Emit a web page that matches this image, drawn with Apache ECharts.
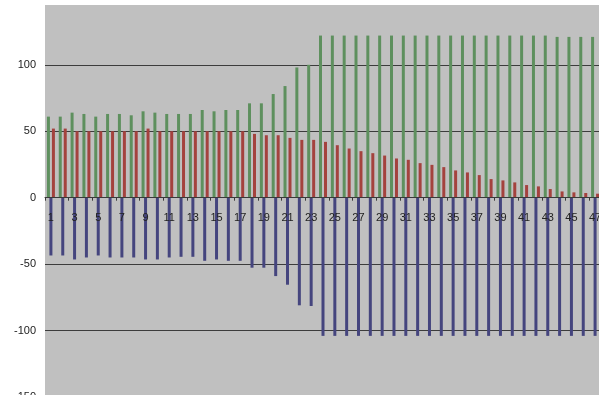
<!DOCTYPE html>
<html>
<head>
<meta charset="utf-8">
<script src="https://cdn.jsdelivr.net/npm/echarts@6/dist/echarts.min.js"></script>
<style>
html,body{margin:0;padding:0;background:#fff;}
#c{width:599px;height:395px;}
</style>
</head>
<body>
<div id="c"></div>
<script>
var categories = ['1','2','3','4','5','6','7','8','9','10','11','12','13','14','15','16','17','18','19','20','21','22','23','24','25','26','27','28','29','30','31','32','33','34','35','36','37','38','39','40','41','42','43','44','45','46','47'];
var greenValues = [61,61,64,63,61,63,63,62,65,64,63,63,63,66,65,66,66,71,71,78,84,98,100,122,122,122,122,122,122,122,122,122,122,122,122,122,122,122,122,122,122,122,122,121,121,121,121];
var blueValues = [-43.5,-43.5,-46.5,-45,-43.5,-45,-45,-45,-46.5,-46.5,-45,-44.5,-44.5,-47.5,-46.5,-47.5,-47.5,-52.7,-52.7,-59,-65.5,-81,-81.5,-104,-104,-104,-104,-104,-104,-104,-104,-104,-104,-104,-104,-104,-104,-104,-104,-104,-104,-104,-104,-104,-104,-104,-104];
var redValues = [52,52,50,50,50,50,50,50,52,50,50,50,50,50,50,50,50,48,47,47,45,43.5,43.5,42,39.5,37,35,33.5,31.7,29.5,28.5,26,24.7,23,20.5,19,17,14,13,11.5,9.5,8.5,6.5,4.7,4,3.5,3];
var yMin = -150, yMax = 145, yStep = 50;

var W = 599, H = 395, gTop = 5, gBottom = -2;
var plotH = H - gTop - gBottom;
var zeroOffset = -plotH * (0 - yMin) / (yMax - yMin);

var chart = echarts.init(document.getElementById('c'), null, {renderer:'canvas'});
chart.setOption({
  animation: false,
  backgroundColor: '#ffffff',
  grid: {left: 45, top: gTop, right: -2, bottom: gBottom, show: true, backgroundColor: '#c0c0c0', borderWidth: 0, containLabel: false, outerBoundsMode: 'none'},
  xAxis: {
    type: 'category',
    data: categories,
    position: 'bottom',
    offset: zeroOffset,
    z: 5,
    axisLine: {show: true, onZero: false, lineStyle: {color: '#3a3a3a', width: 1}},
    axisTick: {show: true, length: 3, lineStyle: {color: '#3a3a3a'}},
    axisLabel: {interval: 1, margin: 15, fontSize: 11, color: '#222', fontFamily: 'Liberation Sans, Arial, sans-serif'},
    splitLine: {show: false}
  },
  yAxis: {
    type: 'value',
    min: yMin, max: yMax, interval: yStep,
    axisLine: {show: false},
    axisTick: {show: false},
    axisLabel: {showMaxLabel: false, fontSize: 11, color: '#222', margin: 9, fontFamily: 'Liberation Sans, Arial, sans-serif'},
    splitLine: {show: true, showMaxLine: false, showMinLine: false, lineStyle: {color: '#3c3c3c', width: 1}}
  },
  series: [
    {type: 'bar', data: greenValues, barWidth: 3, barGap: '-17%', itemStyle: {color: '#5e905e'}},
    {type: 'bar', data: blueValues, barWidth: 3, barGap: '-17%', itemStyle: {color: '#45457e'}},
    {type: 'bar', data: redValues, barWidth: 3, barGap: '-17%', itemStyle: {color: '#a4423e'}}
  ]
});
</script>
</body>
</html>
